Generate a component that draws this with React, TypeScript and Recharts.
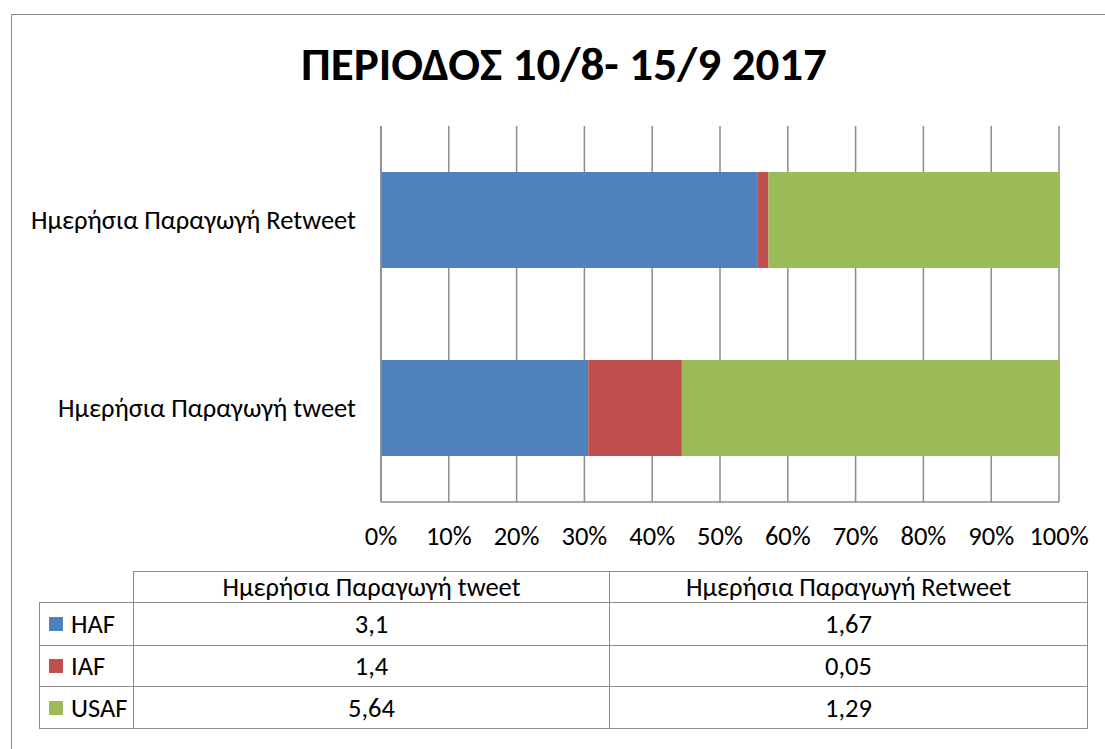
import { BarChart, Bar, XAxis, YAxis, CartesianGrid } from "recharts";

const FONT = "Carlito, Calibri, Roboto, sans-serif";
const GRID = "#8c8c8c";
const TEXT_SIZE = 26.5;

const title = "ΠΕΡΙΟΔΟΣ 10/8- 15/9 2017";
const categories = ["Ημερήσια Παραγωγή tweet", "Ημερήσια Παραγωγή Retweet"];
const seriesNames = ["HAF", "IAF", "USAF"];
const seriesColors = ["#4f81bd", "#c0504d", "#9bbb59"];
const haf = [3.1, 1.67];
const iaf = [1.4, 0.05];
const usaf = [5.64, 1.29];
const pctTicks = [0, 0.1, 0.2, 0.3, 0.4, 0.5, 0.6, 0.7, 0.8, 0.9, 1];

const values = [haf, iaf, usaf];
const data = categories.map((name, i) => ({
  name,
  HAF: haf[i],
  IAF: iaf[i],
  USAF: usaf[i],
}));

// Greek-style decimal comma, as in the table
const fmt = (v: number) => String(v).replace(".", ",");

const cell = (left: number, top: number, width: number, height: number) => ({
  position: "absolute" as const,
  left, top, width, height,
  boxSizing: "border-box" as const,
  border: `1.5px solid ${GRID}`,
  marginLeft: -1, marginTop: -1,
  display: "flex", alignItems: "center", justifyContent: "center",
  fontSize: TEXT_SIZE, color: "#000",
});

function DataTable() {
  const cols = [134, 610, 1088];
  const rows = [603, 646, 687, 729];
  return (
    <>
      {categories.map((c, j) => (
        <div key={c} style={cell(cols[j], 572, cols[j + 1] - cols[j] + 1, 603 - 572 + 1)}>{c}</div>
      ))}
      {seriesNames.map((s, i) => (
        <div key={s}>
          <div style={{ ...cell(40, rows[i], 134 - 40 + 1, rows[i + 1] - rows[i] + 1), justifyContent: "flex-start", paddingLeft: 9 }}>
            <span style={{ width: 14, height: 14, background: seriesColors[i], marginRight: 8, display: "inline-block", flexShrink: 0 }} />
            {s}
          </div>
          {categories.map((c, j) => (
            <div key={c} style={cell(cols[j], rows[i], cols[j + 1] - cols[j] + 1, rows[i + 1] - rows[i] + 1)}>
              {fmt(values[i][j])}
            </div>
          ))}
        </div>
      ))}
    </>
  );
}

export default function App() {
  return (
    <div style={{ position: "absolute", left: 0, top: 0, width: 1105, height: 749, overflow: "hidden", background: "#fff", fontFamily: FONT }}>
      <div style={{ position: "absolute", left: 11, top: 14, width: 1200, height: 800, border: `1.5px solid ${GRID}` }} />
      <svg style={{ position: "absolute", left: 0, top: 0 }} width={1105} height={110}>
        <text x={564} y={80} textAnchor="middle" fontFamily={FONT} fontSize={47} fontWeight={700} fill="#000">
          {title}
        </text>
      </svg>
      <div style={{ position: "absolute", left: 0, top: 0 }}>
        <BarChart
          width={1105}
          height={600}
          data={data}
          layout="vertical"
          stackOffset="expand"
          barCategoryGap="24.5%"
          margin={{ top: 126, right: 46, bottom: 58, left: 21 }}
        >
          <CartesianGrid horizontal={false} stroke={GRID} strokeWidth={1.5} />
          <XAxis
            type="number"
            domain={[0, 1]}
            ticks={pctTicks}
            tickFormatter={(v: number) => `${Math.round(v * 100)}%`}
            tickLine={false}
            axisLine={{ stroke: GRID, strokeWidth: 1.5 }}
            tickMargin={18}
            height={40}
            interval={0}
            tick={{ fill: "#000", fontSize: TEXT_SIZE, fontFamily: FONT }}
          />
          <YAxis
            type="category"
            dataKey="name"
            reversed
            width={360}
            tickLine={false}
            axisLine={{ stroke: GRID, strokeWidth: 1.5 }}
            tickMargin={19}
            tick={{ fill: "#000", fontSize: TEXT_SIZE, fontFamily: FONT }}
          />
          {seriesNames.map((s, i) => (
            <Bar key={s} dataKey={s} stackId="a" fill={seriesColors[i]} isAnimationActive={false} />
          ))}
        </BarChart>
      </div>
      <DataTable />
    </div>
  );
}
